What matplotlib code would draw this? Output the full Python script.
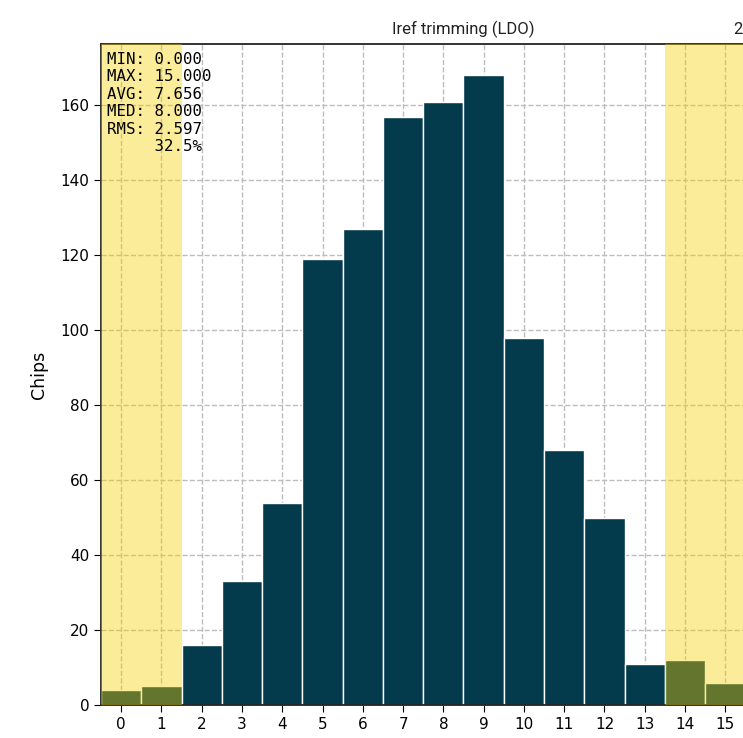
import numpy as np
import matplotlib.pyplot as plt

codes = np.arange(16)
chips = [4, 5, 16, 33, 54, 119, 127, 157, 161, 168, 98, 68, 50, 11, 12, 6]
low_limit = 1.5
high_limit = 13.5
stats_lines = ["MIN: 0.000", "MAX: 15.000", "AVG: 7.656", "MED: 8.000", "RMS: 2.597", "     32.5%"]
title = "Iref trimming (LDO)"
date_label = "2021-06-14  "

fig = plt.figure(figsize=(7.43, 7.38), dpi=100)
ax = fig.add_axes([0.1359, 0.0447, 0.9758, 0.8957])

ax.bar(codes, chips, width=1.0, color='#033a4c', edgecolor='white', linewidth=1.0, zorder=2)
ax.set_xlim(-0.5, 17.5)
ax.set_ylim(0, max(chips) * 1.05)

# out-of-range bands drawn over the bars
band = (0.97, 0.82, 0.0)
ax.axvspan(-0.5, low_limit, color=band, alpha=0.40, lw=0, zorder=3)
ax.axvspan(high_limit, 17.5, color=band, alpha=0.40, lw=0, zorder=3)

ax.set_xticks(codes)
ax.set_yticks(np.arange(0, 161, 20))
ax.tick_params(labelsize=11, length=5)
ax.grid(True, ls='--', color='#bdbdbd', lw=1.0, zorder=1)
ax.set_axisbelow(True)
for s in ax.spines.values():
    s.set_linewidth(1.3)
    s.set_color('#222222')

ax.set_ylabel("Chips", fontsize=12.5, labelpad=9)
ax.set_title(title, fontsize=12, family='Roboto', color='#222222', pad=7)
ax.set_title(date_label, fontsize=12, family='Roboto', color='#222222', loc='right', pad=7)

ax.text(0.008, 0.988, "\n".join(stats_lines), transform=ax.transAxes,
        family='DejaVu Sans Mono', fontsize=11.3, va='top', ha='left',
        linespacing=1.2, zorder=5)

fig.savefig("out.png", dpi=100)
